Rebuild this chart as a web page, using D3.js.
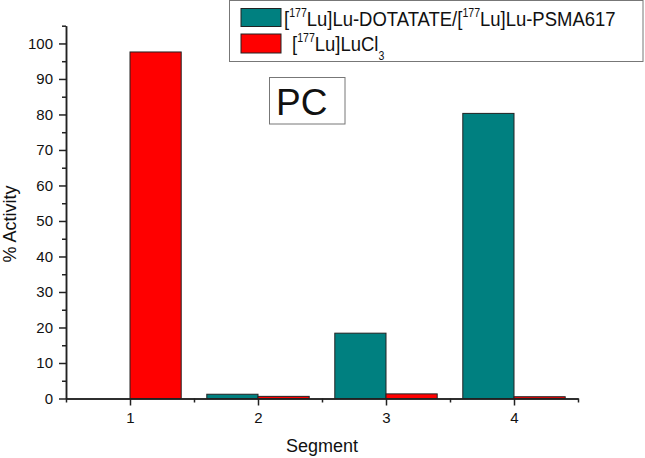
<!DOCTYPE html>
<html>
<head>
<script src="https://d3js.org/d3.v7.min.js"></script>
<style type="text/css">
body { margin:0; background:#fff; }
svg text { font-family: "Liberation Sans", Arial, sans-serif; fill:#111; }
.axis path, .axis line { stroke:#222; stroke-width:1.5px; }
</style>
</head>
<body>
<svg id="chart"></svg>
<script>
// data
var segments = [1, 2, 3, 4];
var conjugate = [0, 1.2, 18.4, 80.3];   // [177Lu]Lu-DOTATATE/[177Lu]Lu-PSMA617
var lucl3 = [97.6, 0.6, 1.3, 0.5];      // [177Lu]LuCl3
var yTicks = d3.range(0, 101, 10);
var yMinor = d3.range(5, 106, 10);
var xMinor = [0.5, 1.5, 2.5, 3.5, 4.5];

var width = 645, height = 458;
var barW = 0.4;

var svg = d3.select('#chart')
  .attr('width', width)
  .attr('height', height);

var x = d3.scaleLinear().domain([0.5, 4.5]).range([66, 578]);
var y = d3.scaleLinear().domain([0, 105]).range([398.5, 25.7]);

// bars
var series = [
  {vals: conjugate, fill: '#008080', off: -barW},
  {vals: lucl3, fill: '#ff0000', off: 0}
];
series.forEach(function(s) {
  svg.append('g').selectAll('rect')
      .data(segments)
    .enter().append('rect')
      .attr('x', function(d) { return x(d + s.off); })
      .attr('width', function(d) { return x(d + s.off + barW) - x(d + s.off); })
      .attr('y', function(d, i) { return y(s.vals[i]); })
      .attr('height', function(d, i) { return y(0) - y(s.vals[i]); })
      .style('fill', s.fill)
      .style('stroke', '#222')
      .style('stroke-width', 1);
});

// axes
svg.append('g')
  .attr('class', 'axis')
  .attr('transform', 'translate(0,' + y(0) + ')')
  .call(d3.axisBottom(x).tickValues(xMinor).tickSize(4).tickSizeOuter(0).tickFormat(''));
var xAxis = svg.append('g')
  .attr('class', 'axis')
  .attr('transform', 'translate(0,' + y(0) + ')')
  .call(d3.axisBottom(x).tickValues(segments).tickSize(7).tickSizeOuter(0).tickPadding(7).tickFormat(d3.format('d')));

svg.append('g')
  .attr('class', 'axis')
  .attr('transform', 'translate(' + x(0.5) + ',0)')
  .call(d3.axisLeft(y).tickValues(yMinor).tickSize(4).tickSizeOuter(0).tickFormat(''));
var yAxis = svg.append('g')
  .attr('class', 'axis')
  .attr('transform', 'translate(' + x(0.5) + ',0)')
  .call(d3.axisLeft(y).tickValues(yTicks).tickSize(7).tickSizeOuter(0).tickPadding(6));

[xAxis, yAxis].forEach(function(a) {
  a.attr('font-size', 15).attr('font-family', '"Liberation Sans", Arial, sans-serif');
  a.selectAll('text').style('font-size', '15px').style('fill', '#111');
});

// axis titles
svg.append('text')
  .attr('x', 322).attr('y', 452)
  .attr('text-anchor', 'middle')
  .style('font-size', '18px')
  .text('Segment');
svg.append('text')
  .attr('transform', 'translate(16,224) rotate(-90)')
  .attr('text-anchor', 'middle')
  .style('font-size', '18px')
  .text('% Activity');

// PC label
svg.append('rect')
  .attr('x', 269.5).attr('y', 77.5).attr('width', 75.5).attr('height', 46.5)
  .style('fill', '#fff').style('stroke', '#777').style('stroke-width', 1);
svg.append('text')
  .attr('x', 276).attr('y', 115)
  .style('font-size', '37px')
  .text('PC');

// legend
var legend = svg.append('g');
legend.append('rect')
  .attr('x', 229.5).attr('y', 0.5).attr('width', 413.5).attr('height', 61)
  .style('fill', '#fff').style('stroke', '#777').style('stroke-width', 1);
legend.append('rect')
  .attr('x', 241).attr('y', 8.5).attr('width', 40).attr('height', 18)
  .style('fill', '#008080').style('stroke', '#222');
legend.append('rect')
  .attr('x', 241).attr('y', 34).attr('width', 40).attr('height', 19)
  .style('fill', '#ff0000').style('stroke', '#222');

var t1 = legend.append('text')
  .attr('transform', 'translate(284,26) scale(0.88,1)')
  .style('font-size', '21px');
t1.append('tspan').text('[');
t1.append('tspan').attr('dy', -9).style('font-size', '12px').text('177');
t1.append('tspan').attr('dy', 9).text('Lu]Lu-DOTATATE/[');
t1.append('tspan').attr('dy', -9).style('font-size', '12px').text('177');
t1.append('tspan').attr('dy', 9).text('Lu]Lu-PSMA617');

var t2 = legend.append('text')
  .attr('transform', 'translate(292,51) scale(0.88,1)')
  .style('font-size', '21px');
t2.append('tspan').text('[');
t2.append('tspan').attr('dy', -9).style('font-size', '12px').text('177');
t2.append('tspan').attr('dy', 9).text('Lu]LuCl');
t2.append('tspan').attr('dy', 9).style('font-size', '12px').text('3');
</script>
</body>
</html>
